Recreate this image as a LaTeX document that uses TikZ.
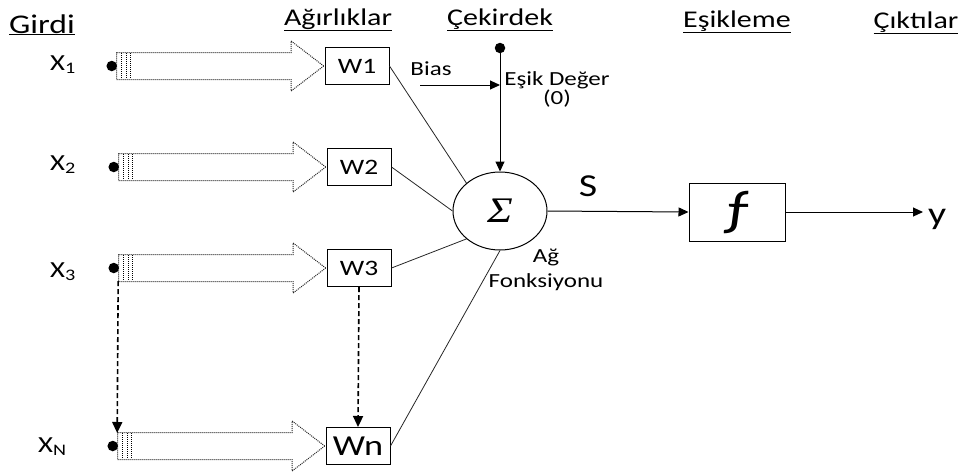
\documentclass[tikz,border=0pt]{standalone}
\usepackage{fontspec}
\setmainfont[FakeStretch=1.25]{Carlito}
\newfontfamily\sigmafont[FakeStretch=1.2]{Liberation Serif}
\usetikzlibrary{shapes,arrows.meta,positioning,calc}

\begin{document}
\begin{tikzpicture}[x=1pt, y=-1pt,
    header/.style={font=\fontsize{24}{24}\selectfont, anchor=base},
    inlabel/.style={font=\fontsize{23}{23}\selectfont, anchor=base west, inner sep=0pt},
    weight/.style={rectangle, draw, line width=1pt, minimum width=64pt, minimum height=37pt, inner sep=0pt, font=\fontsize{22}{22}\selectfont},
    dot/.style={circle, fill, inner sep=0pt, minimum size=10.5pt},
    inarrow/.style={single arrow, draw=black!85, densely dotted, line width=1pt, minimum height=207pt, inner xsep=0pt, inner ysep=13pt, single arrow head extend=11.5pt, single arrow head indent=0pt, single arrow tip angle=75},
    arrow/.style={-{Triangle[length=10pt,width=9pt]}, line width=1pt},
    dasharrow/.style={-{Triangle[length=11pt,width=10pt]}, line width=1.6pt, dash pattern=on 5pt off 3pt},
    link/.style={line width=0.8pt, draw=black!85},
    small/.style={font=\fontsize{20}{18}\selectfont, align=center}
]
\useasboundingbox (0,0) rectangle (958,472);

% Headers
\node[header, font=\fontsize{27}{27}\selectfont] (hgirdi) at (42,33) {\underline{Girdi}};
\node[header] (hagirlik) at (338,25) {\underline{Ağırlıklar}};
\node[header] (hcekirdek) at (500,25) {\underline{Çekirdek}};
\node[header] (hesik) at (737,27) {\underline{Eşikleme}};
\node[header] (hcikti) at (916,28) {\underline{Çıktılar}};

% Weights
\node[weight] (w1) at (357,66) {W1};
\node[weight] (w2) at (359,167) {W2};
\node[weight] (w3) at (359,268) {W3};
\node[weight, font=\fontsize{29}{29}\selectfont] (wn) at (358,446) {Wn};

% Input arrows
\node[inarrow, anchor=tip] (a1) at (w1.west) {};
\node[inarrow, anchor=tip] (a2) at (w2.west) {};
\node[inarrow, anchor=tip] (a3) at (w3.west) {};
\node[inarrow, anchor=tip] (an) at (wn.west) {};
\foreach \a in {a1,a2,a3,an}
  \foreach \k in {5,10,14}
    \draw[densely dotted, line width=1pt] ($(\a.tail)+(\k,-13)$) -- ($(\a.tail)+(\k,13)$);

% Inputs
\node[dot, left=-1pt of a1.tail] (d1) {};
\node[dot, left=-1pt of a2.tail] (d2) {};
\node[dot, left=-1pt of a3.tail] (d3) {};
\node[dot, left=-1pt of an.tail] (dn) {};
\node[inlabel] (x1) at (50,70) {X\textsubscript{1}};
\node[inlabel] (x2) at (50,170) {X\textsubscript{2}};
\node[inlabel] (x3) at (50,277) {X\textsubscript{3}};
\node[inlabel] (xn) at (38,452) {X\textsubscript{N}};

% Summation
\node[ellipse, draw, line width=1pt, minimum width=94pt, minimum height=78pt] (sigma) at (500,211) {\fontsize{36}{36}\sigmafont\itshape Σ};
\node[font=\fontsize{20}{25}\selectfont, align=center] (agf) at (546,270) {Ağ\\Fonksiyonu};

% Threshold and bias
\node[dot] (th) at (500,48) {};
\coordinate (biasstart) at (420,85);
\node[small, anchor=base] (bias) at (431,75) {Bias};
\node[small] (esik) at (557,89) {Eşik Değer\\(0)};

% Activation and output
\node[rectangle, draw, line width=1pt, minimum width=96pt, minimum height=58pt, inner sep=0pt] (f) at (737,212) {\fontsize{50}{50}\selectfont ƒ};
\node[font=\fontsize{32}{32}\selectfont] (s) at (588,186) {S};
\node[font=\fontsize{32}{32}\selectfont, anchor=west, inner sep=5pt] (out) at (923,219) {y};

% Connections
\draw[link] (w1.east) -- (sigma.north west);
\draw[link] (w2.east) -- (sigma.west);
\draw[link] (w3.east) -- (sigma.south west);
\draw[link] (wn.east) -- (sigma.south);
\draw[arrow] (th) -- (th |- sigma.north);
\draw[arrow] (biasstart) -- (th |- biasstart);
\draw[arrow] (sigma.east) -- (f.west);
\draw[arrow] (f.east) -- (out.west |- f.east);
\draw[dasharrow] ($(a3.tail)+(0,13)$) -- ($(an.tail)+(0,-13)$);
\draw[dasharrow] (w3.south) -- (wn.north);

\end{tikzpicture}
\end{document}
